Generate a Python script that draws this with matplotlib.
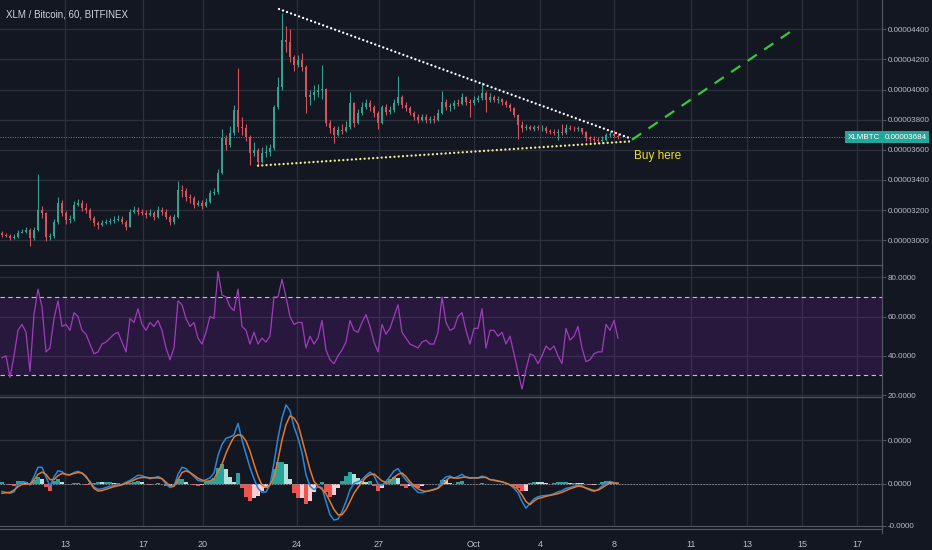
import numpy as np
import matplotlib.pyplot as plt
from matplotlib.lines import Line2D

plt.rcParams['font.family'] = ['Liberation Sans', 'DejaVu Sans']

# ---- data: 4-hour bars, prices in satoshi ----
first_open = 3045
closes = [3038, 3031, 3018, 3024, 3051, 3058, 3071, 3018, 3071, 3203,
          3183, 3024, 3030, 3124, 3250, 3183, 3137, 3142, 3236, 3250,
          3216, 3203, 3150, 3117, 3104, 3117, 3124, 3130, 3137, 3144,
          3124, 3091, 3190, 3203, 3190, 3183, 3170, 3183, 3157, 3203,
          3190, 3157, 3124, 3157, 3336, 3330, 3289, 3283, 3236, 3250,
          3230, 3256, 3316, 3322, 3448, 3680, 3634, 3713, 3866, 3753,
          3745, 3687, 3581, 3601, 3521, 3581, 3588, 3614, 3885, 4018,
          4329, 4318, 4217, 4164, 4197, 4150, 3952, 3965, 3985, 3998,
          4004, 3779, 3746, 3700, 3733, 3728, 3753, 3912, 3779, 3846,
          3885, 3912, 3885, 3846, 3779, 3885, 3852, 3866, 3912, 3952,
          3899, 3879, 3846, 3819, 3799, 3819, 3799, 3805, 3796, 3846,
          3919, 3885, 3892, 3912, 3905, 3952, 3919, 3912, 3932, 3945,
          3978, 3932, 3952, 3932, 3938, 3919, 3899, 3879, 3832, 3766,
          3746, 3752, 3741, 3750, 3744, 3748, 3726, 3720, 3713, 3720,
          3714, 3746, 3740, 3735, 3742, 3720, 3680, 3673, 3668, 3660,
          3667, 3700, 3706, 3695, 3684]
highs = [3060, 3050, 3040, 3040, 3065, 3075, 3085, 3080, 3090, 3443,
         3230, 3190, 3050, 3140, 3290, 3265, 3195, 3165, 3260, 3275,
         3265, 3245, 3215, 3160, 3130, 3135, 3140, 3150, 3160, 3165,
         3160, 3135, 3210, 3225, 3220, 3205, 3200, 3210, 3195, 3225,
         3220, 3205, 3165, 3175, 3390, 3370, 3345, 3310, 3295, 3270,
         3265, 3280, 3335, 3350, 3470, 3740, 3700, 3760, 3900, 4144,
         3820, 3770, 3700, 3650, 3610, 3620, 3630, 3640, 3900, 4080,
         4508, 4420, 4400, 4230, 4230, 4240, 4160, 4000, 4030, 4040,
         4164, 4010, 3800, 3760, 3760, 3770, 3790, 3986, 3920, 3870,
         3920, 3940, 3930, 3900, 3860, 3900, 3905, 3890, 3935, 4090,
         3965, 3915, 3890, 3860, 3835, 3840, 3835, 3825, 3830, 3870,
         3993, 3935, 3910, 3930, 3940, 3975, 3960, 3940, 3955, 3965,
         4050, 3990, 3975, 3965, 3955, 3945, 3930, 3910, 3885, 3840,
         3790, 3770, 3765, 3768, 3765, 3762, 3755, 3740, 3735, 3740,
         3770, 3770, 3762, 3760, 3755, 3745, 3725, 3695, 3690, 3685,
         3690, 3715, 3725, 3730, 3712]
lows = [3025, 3020, 3005, 3010, 3015, 3045, 3050, 2959, 3000, 3060,
        3150, 2992, 3000, 3015, 3110, 3160, 3110, 3115, 3130, 3225,
        3195, 3180, 3135, 3095, 3075, 3095, 3105, 3110, 3115, 3125,
        3105, 3070, 3085, 3180, 3170, 3165, 3150, 3160, 3135, 3150,
        3170, 3140, 3104, 3110, 3150, 3290, 3260, 3250, 3215, 3225,
        3210, 3220, 3245, 3300, 3310, 3440, 3600, 3620, 3700, 3720,
        3700, 3660, 3500, 3560, 3495, 3510, 3550, 3560, 3600, 3870,
        4000, 4250, 4180, 4120, 4150, 4120, 3845, 3900, 3930, 3950,
        3940, 3760, 3710, 3647, 3690, 3705, 3720, 3740, 3750, 3770,
        3830, 3870, 3860, 3820, 3740, 3770, 3830, 3835, 3850, 3900,
        3880, 3860, 3830, 3800, 3780, 3790, 3780, 3780, 3775, 3790,
        3840, 3865, 3860, 3870, 3890, 3900, 3900, 3819, 3900, 3920,
        3930, 3852, 3920, 3915, 3910, 3900, 3885, 3860, 3815, 3674,
        3720, 3730, 3730, 3728, 3730, 3728, 3712, 3705, 3700, 3667,
        3700, 3705, 3730, 3725, 3722, 3705, 3660, 3650, 3650, 3645,
        3648, 3660, 3685, 3685, 3670]
rsi = [39, 40, 29, 40, 53, 56, 52, 32, 61, 74,
       65, 42, 44, 59, 68, 55, 56, 53, 62, 60,
       53, 51, 46, 41, 42, 46, 47, 49, 51, 52,
       47, 42, 59, 57, 64, 56, 53, 57, 55, 58,
       53, 44, 38, 44, 68, 66, 59, 55, 57, 49,
       46, 52, 60, 59, 83, 71, 70, 65, 63, 74,
       55, 53, 46, 52, 46, 49, 47, 50, 70, 70,
       79, 70, 60, 56, 57, 57, 44, 50, 46, 49,
       58, 43, 38, 36, 40, 43, 47, 58, 53, 52,
       57, 61, 55, 47, 42, 56, 51, 54, 60, 66,
       52, 49, 46, 45, 44, 47, 48, 46, 46, 52,
       70, 57, 53, 54, 60, 62, 53, 46, 54, 54,
       64, 44, 53, 53, 50, 52, 46, 50, 41, 32,
       23, 33, 41, 40, 36, 40, 45, 43, 45, 40,
       36, 54, 48, 50, 55, 44, 37, 38, 41, 42,
       42, 56, 53, 58, 49]
# MACD and signal in units of 1e-7 BTC
macd = [-0.17, -0.19, -0.21, -0.18, 0.00, 0.05, 0.04, -0.02, 0.17, 0.38,
        0.38, 0.16, -0.05, 0.16, 0.30, 0.28, 0.21, 0.21, 0.26, 0.29,
        0.25, 0.15, 0.06, -0.07, -0.12, -0.11, -0.08, -0.05, -0.04, -0.02,
        -0.01, 0.04, 0.08, 0.14, 0.20, 0.19, 0.15, 0.12, 0.14, 0.17,
        0.12, 0.00, -0.08, -0.05, 0.22, 0.38, 0.35, 0.26, 0.17, 0.08,
        0.06, 0.10, 0.14, 0.25, 0.65, 0.90, 1.04, 1.07, 1.12, 1.38,
        1.00, 0.68, 0.37, 0.12, -0.10, -0.19, -0.18, -0.02, 0.48, 1.05,
        1.50, 1.80, 1.67, 1.30, 1.05, 0.71, 0.21, -0.05, -0.13, -0.06,
        -0.08, -0.40, -0.70, -0.82, -0.80, -0.63, -0.40, -0.13, 0.02, 0.05,
        0.10, 0.19, 0.27, 0.19, 0.00, -0.03, 0.06, 0.17, 0.30, 0.35,
        0.21, 0.09, 0.00, -0.10, -0.19, -0.20, -0.17, -0.15, -0.12, -0.09,
        0.08, 0.16, 0.18, 0.13, 0.17, 0.22, 0.15, 0.13, 0.14, 0.14,
        0.18, 0.15, 0.10, 0.08, 0.06, 0.05, 0.02, -0.02, -0.10, -0.20,
        -0.40, -0.55, -0.44, -0.34, -0.29, -0.27, -0.26, -0.25, -0.22, -0.18,
        -0.15, -0.10, -0.08, -0.05, -0.03, -0.04, -0.10, -0.14, -0.17, -0.13,
        -0.05, 0.03, 0.06, 0.03, 0.01]
signal = [-0.21, -0.20, -0.19, -0.14, -0.06, -0.01, 0.00, 0.00, 0.09, 0.22,
          0.27, 0.22, 0.10, 0.10, 0.19, 0.24, 0.22, 0.21, 0.24, 0.26,
          0.25, 0.18, 0.03, -0.10, -0.16, -0.15, -0.12, -0.09, -0.06, -0.04,
          -0.02, 0.02, 0.05, 0.09, 0.13, 0.15, 0.15, 0.14, 0.14, 0.14,
          0.12, 0.04, -0.04, -0.05, 0.10, 0.26, 0.30, 0.26, 0.20, 0.13,
          0.09, 0.06, 0.07, 0.12, 0.28, 0.45, 0.70, 0.90, 1.07, 1.12,
          1.10, 0.98, 0.75, 0.45, 0.18, -0.03, -0.08, -0.02, 0.15, 0.55,
          1.00, 1.35, 1.55, 1.50, 1.36, 1.02, 0.67, 0.33, 0.06, -0.05,
          -0.12, -0.22, -0.40, -0.58, -0.70, -0.70, -0.58, -0.40, -0.21, -0.08,
          0.04, 0.15, 0.21, 0.23, 0.15, 0.07, 0.04, 0.06, 0.15, 0.22,
          0.25, 0.17, 0.05, -0.04, -0.11, -0.15, -0.17, -0.15, -0.13, -0.10,
          -0.02, 0.08, 0.15, 0.14, 0.13, 0.15, 0.16, 0.14, 0.14, 0.14,
          0.15, 0.15, 0.10, 0.09, 0.07, 0.05, 0.02, -0.02, -0.06, -0.12,
          -0.25, -0.40, -0.47, -0.39, -0.33, -0.31, -0.28, -0.26, -0.24, -0.22,
          -0.19, -0.15, -0.11, -0.08, -0.05, -0.06, -0.09, -0.12, -0.15, -0.14,
          -0.09, -0.03, 0.02, 0.02, 0.02]

day_ticks = [65, 143, 203, 297, 379, 474, 540, 614, 691, 747, 802, 857]
day_labels = ['13', '17', '20', '24', '27', 'Oct', '4', '8', '11', '13', '15', '17']
price_ticks = [3000, 3200, 3400, 3600, 3800, 4000, 4200, 4400]
rsi_ticks = [20, 40, 60, 80]
last_price = 3684

# drawings (hour, price)
resistance = ([279, 630], [4534, 3677])
support = ([258, 630], [3495, 3656])
target = ([632, 796], [3667, 4409])
buy_at = (634, 3561)

# ---- style ----
BG = '#131722'
GRID = '#2c303b'
TXT = '#b8bcc6'
EDGE = '#50545f'
UP, DOWN = '#3a9e8f', '#d5525d'
TEAL = '#26a69a'
W, H = 932, 550
RIGHT = 882
LBL = 5.8

closes = np.array(closes, float)
highs = np.array(highs, float)
lows = np.array(lows, float)
opens = np.r_[first_open, closes[:-1]]
bar_x = 2 + 4 * np.arange(len(closes))   # one bar = 4 hours
highs = np.maximum(highs, np.maximum(opens, closes))
lows = np.minimum(lows, np.minimum(opens, closes))

fig = plt.figure(figsize=(W / 100, H / 100), dpi=100, facecolor=BG)


def pane(top, bottom):
    ax = fig.add_axes([0, 1 - bottom / H, RIGHT / W, (bottom - top) / H], facecolor=BG)
    ax.set_xlim(0, RIGHT)
    ax.set_xticks(day_ticks)
    ax.grid(True, color=GRID, lw=0.9)
    ax.set_axisbelow(True)
    for s in ['left', 'bottom']:
        ax.spines[s].set_visible(False)
    for s in ['top', 'right']:
        ax.spines[s].set_color(EDGE)
        ax.spines[s].set_linewidth(0.9)
    ax.yaxis.tick_right()
    ax.tick_params(axis='y', direction='out', length=3, width=0.8, color=EDGE,
                   labelcolor=TXT, labelsize=LBL, pad=1.2)
    ax.tick_params(axis='x', length=0, labelbottom=False)
    return ax


# ---- price pane ----
ax1 = pane(0, 265)
ax1.spines['top'].set_visible(False)
ax1.set_ylim(2836, 4594)
ax1.set_yticks(price_ticks)
ax1.set_yticklabels([f'{p * 1e-8:.8f}' for p in price_ticks])

colors = np.where(closes >= opens, UP, DOWN)
ax1.vlines(bar_x, lows, highs, colors=colors, lw=0.8)
ax1.bar(bar_x, np.maximum(np.abs(closes - opens), 4), bottom=np.minimum(opens, closes),
        width=2.6, color=colors, linewidth=0)

ax1.axhline(last_price, color=TEAL, lw=0.7, ls=(0, (1, 1.5)))
dots = dict(ls=(0, (0.01, 1.8)), dash_capstyle='round', lw=1.7)
ax1.plot(*resistance, color='white', **dots)
ax1.plot(*support, color='#eeee8a', **dots)
ax1.plot(*target, color='#36c93a', lw=1.6, ls=(0, (5, 4)))
ax1.text(*buy_at, 'Buy here', color='#f2e21c', fontsize=8.5, va='center', ha='left')

ax1.text(6, 4500, 'XLM / Bitcoin, 60, BITFINEX', color='#d1d4dc', fontsize=7, va='center')
ax1.annotate('XLMBTC', xy=(0.998, last_price), xycoords=('axes fraction', 'data'),
             ha='right', va='center', color='white', fontsize=LBL,
             bbox=dict(boxstyle='square,pad=0.35', fc=TEAL, ec='none'))
ax1.annotate(f'{last_price * 1e-8:.8f}', xy=(1.003, last_price), xycoords=('axes fraction', 'data'),
             ha='left', va='center', color='white', fontsize=LBL, annotation_clip=False,
             bbox=dict(boxstyle='square,pad=0.3', fc=TEAL, ec='none'))

# ---- RSI pane ----
ax2 = pane(265, 397)
ax2.set_ylim(19, 86.3)
ax2.set_yticks(rsi_ticks)
ax2.set_yticklabels([f'{v:.4f}' for v in rsi_ticks])
ax2.axhspan(30, 70, color='#7b1fa2', alpha=0.22, lw=0)
for lvl in (30, 70):
    ax2.axhline(lvl, color='#c0c3ca', lw=0.8, ls=(0, (4, 3)))
ax2.plot(bar_x, rsi, color='#a03cbc', lw=0.9)

# ---- MACD pane ----
ax3 = pane(397, 526)
ax3.spines['bottom'].set_visible(True)
ax3.spines['bottom'].set_color(EDGE)
ax3.set_ylim(-0.956, 1.98)
ax3.set_yticks([1.0, 0.0, -0.956])
ax3.set_yticklabels(['0.0000', '0.0000', '-0.0000'])
macd = np.array(macd)
signal = np.array(signal)
hist = macd - signal
prev = np.r_[hist[0], hist[:-1]]
hcol = np.where(hist >= 0, np.where(hist >= prev, '#26a69a', '#b2dfdb'),
                np.where(hist < prev, '#ef5350', '#ffcdd2'))
ax3.bar(bar_x, hist, width=3.4, color=hcol, linewidth=0)
ax3.axhline(0, color='#8a8e99', lw=0.6, ls=(0, (2, 1.5)))
ax3.plot(bar_x, macd, color='#2a87d8', lw=1.1)
ax3.plot(bar_x, signal, color='#e3782f', lw=1.1)
ax3.tick_params(axis='x', labelbottom=True, labelcolor=TXT, labelsize=6.5, pad=10)
ax3.set_xticklabels(day_labels)

fig.add_artist(Line2D([0, RIGHT / W], [1 - 529 / H] * 2, color=EDGE, lw=0.9))
fig.add_artist(Line2D([RIGHT / W] * 2, [1 - 533 / H, 1 - 526 / H], color=EDGE, lw=0.9))

fig.savefig('out.png', dpi=100, facecolor=BG)
